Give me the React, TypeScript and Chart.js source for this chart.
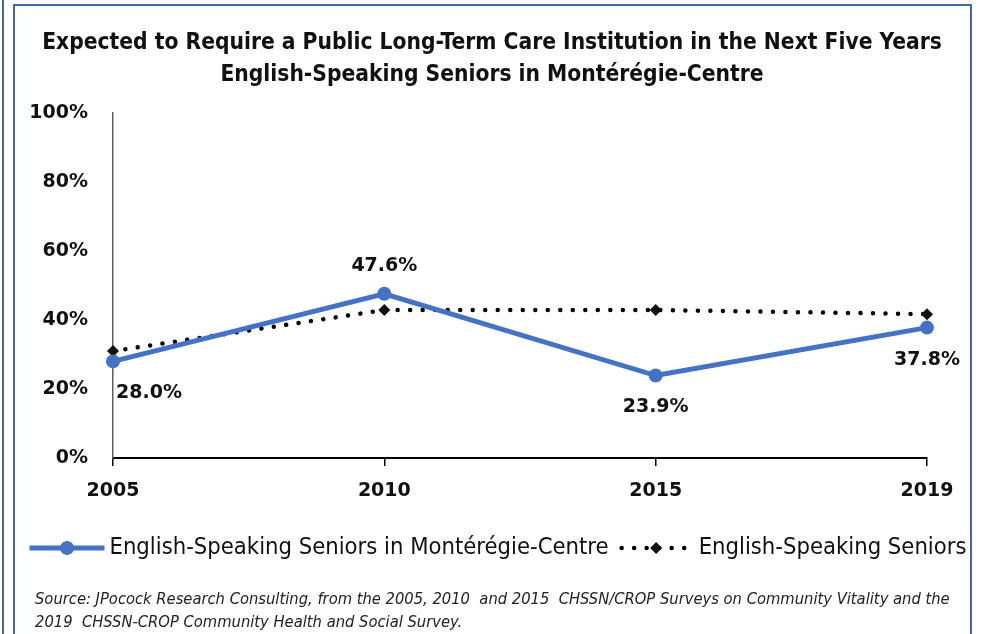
import React, { useEffect, useRef } from 'react';
import { Chart, registerables } from 'chart.js';

Chart.register(...registerables);

// ---------- data ----------
const years = ['2005', '2010', '2015', '2019'];
const monteregieCentre = [28.0, 47.6, 23.9, 37.8];
const allEnglishSeniors = [31.0, 42.9, 42.9, 41.7];
const yTickValues = [0, 20, 40, 60, 80, 100];
const seriesNames = ['English-Speaking Seniors in Montérégie-Centre', 'English-Speaking Seniors'];
const titleLines = [
  'Expected to Require a Public Long-Term Care Institution in the Next Five Years',
  'English-Speaking Seniors in Montérégie-Centre',
];
const sourceLines = [
  'Source: JPocock Research Consulting, from the 2005, 2010  and 2015  CHSSN/CROP Surveys on Community Vitality and the',
  '2019  CHSSN-CROP Community Health and Social Survey.',
];
const labelPlacement = ['below', 'above', 'below', 'below'];

// ---------- styles ----------
const BLUE = '#4472C4';
const FRAME = '#4166ae';
const NARROW = '"Liberation Sans Narrow", "DejaVu Sans Condensed", "Roboto Condensed", "Liberation Sans", sans-serif';
const WIDE = '"DejaVu Sans", "Liberation Sans", sans-serif';
const CANVAS_W = 953;
const CANVAS_H = 628;

const textPlugin = {
  id: 'textPlugin',
  afterDatasetsDraw(chart: any) {
    const ctx = chart.ctx;
    const area = chart.chartArea;
    const meta = chart.getDatasetMeta(0);
    const values = chart.data.datasets[0].data as number[];
    ctx.save();
    ctx.font = `bold 19px ${WIDE}`;
    ctx.fillStyle = '#111';
    ctx.textAlign = 'center';
    ctx.textBaseline = 'middle';
    meta.data.forEach((el: any, i: number) => {
      const txt = values[i].toFixed(1) + '%';
      const w = ctx.measureText(txt).width;
      const cx = Math.max(el.x, area.left + 3 + w / 2);
      const cy = labelPlacement[i] === 'above' ? el.y - 28 : el.y + 32;
      ctx.fillText(txt, cx, cy);
    });
    ctx.restore();
  },
  afterDraw(chart: any) {
    const ctx = chart.ctx;
    ctx.save();
    // title
    ctx.fillStyle = '#111';
    ctx.textAlign = 'center';
    ctx.textBaseline = 'middle';
    ctx.font = `bold 22.6px ${NARROW}`;
    ctx.fillText(titleLines[0], 477, 37);
    ctx.fillText(titleLines[1], 477, 69);

    // legend
    const ds = chart.data.datasets;
    ctx.font = `23.6px ${NARROW}`;
    const sample = 75;
    const gap = 5;
    const between = 10;
    const w1 = ctx.measureText(seriesNames[0]).width;
    const w2 = ctx.measureText(seriesNames[1]).width;
    const total = sample + gap + w1 + between + sample + gap + w2;
    let x = 483 - total / 2;
    const ly = 542;
    // item 1
    ctx.strokeStyle = ds[0].borderColor;
    ctx.lineWidth = ds[0].borderWidth;
    ctx.setLineDash([]);
    ctx.lineCap = 'butt';
    ctx.beginPath();
    ctx.moveTo(x, ly);
    ctx.lineTo(x + sample, ly);
    ctx.stroke();
    ctx.fillStyle = ds[0].pointBackgroundColor;
    ctx.beginPath();
    ctx.arc(x + sample / 2, ly, ds[0].pointRadius, 0, Math.PI * 2);
    ctx.fill();
    ctx.fillStyle = '#111';
    ctx.textAlign = 'left';
    ctx.fillText(seriesNames[0], x + sample + gap, ly);
    x += sample + gap + w1 + between;
    // item 2
    ctx.strokeStyle = ds[1].borderColor;
    ctx.lineWidth = ds[1].borderWidth;
    ctx.setLineDash(ds[1].borderDash);
    ctx.lineCap = 'round';
    ctx.beginPath();
    ctx.moveTo(x + 3, ly);
    ctx.lineTo(x + sample, ly);
    ctx.stroke();
    ctx.setLineDash([]);
    const r = ds[1].pointRadius;
    const cx = x + sample / 2;
    ctx.fillStyle = ds[1].pointBackgroundColor;
    ctx.beginPath();
    ctx.moveTo(cx, ly - r);
    ctx.lineTo(cx + r, ly);
    ctx.lineTo(cx, ly + r);
    ctx.lineTo(cx - r, ly);
    ctx.closePath();
    ctx.fill();
    ctx.fillStyle = '#111';
    ctx.fillText(seriesNames[1], x + sample + gap, ly);

    // source
    ctx.font = `italic 16.4px ${NARROW}`;
    ctx.fillStyle = '#222';
    ctx.textAlign = 'left';
    ctx.fillText(sourceLines[0], 20, 594);
    ctx.fillText(sourceLines[1], 20, 617);
    ctx.restore();
  },
};

function LineChart() {
  const ref = useRef<HTMLCanvasElement | null>(null);
  useEffect(() => {
    if (!ref.current) return;
    const tickFont = { family: WIDE, weight: 'bold' as const, size: 19 };
    const chart = new Chart(ref.current, {
      type: 'line',
      data: {
        labels: years,
        datasets: [
          {
            label: seriesNames[0],
            data: monteregieCentre,
            borderColor: BLUE,
            backgroundColor: BLUE,
            borderWidth: 5,
            pointRadius: 7,
            pointHoverRadius: 7,
            pointBackgroundColor: BLUE,
            pointBorderColor: BLUE,
            pointBorderWidth: 0,
            tension: 0,
            clip: false,
            order: 0,
          } as any,
          {
            label: seriesNames[1],
            data: allEnglishSeniors,
            borderColor: '#000',
            backgroundColor: '#000',
            borderWidth: 4.5,
            borderDash: [0.01, 12.5],
            borderCapStyle: 'round',
            pointStyle: 'rectRot',
            pointRadius: 6,
            pointHoverRadius: 6,
            pointBackgroundColor: '#111',
            pointBorderColor: '#111',
            pointBorderWidth: 0,
            tension: 0,
            clip: false,
            order: 1,
          } as any,
        ],
      },
      options: {
        responsive: false,
        animation: false,
        events: [],
        layout: { padding: { left: 0, right: 41, top: 107, bottom: 126 } },
        plugins: {
          legend: { display: false },
          title: { display: false },
          tooltip: { enabled: false },
        },
        scales: {
          x: {
            type: 'category',
            offset: false,
            grid: {
              display: true,
              drawOnChartArea: false,
              drawTicks: true,
              tickLength: 8,
              color: '#000',
              lineWidth: 1.5,
            },
            border: { display: true, color: '#000', width: 2 },
            ticks: { font: tickFont, color: '#111', padding: 14, maxRotation: 0, autoSkip: false },
            afterFit: (s: any) => {
              s.height = 50;
            },
          },
          y: {
            min: 0,
            max: 100,
            afterBuildTicks: (s: any) => {
              s.ticks = yTickValues.map((v) => ({ value: v }));
            },
            ticks: {
              font: tickFont,
              color: '#111',
              padding: 25,
              callback: (v: any) => v + '%',
            },
            grid: { display: false, drawTicks: false },
            border: { display: true, color: '#5f5f5f', width: 1.5 },
            afterFit: (s: any) => {
              s.width = 98;
            },
          },
        },
      },
      plugins: [textPlugin],
    });
    return () => chart.destroy();
  }, []);
  return <canvas ref={ref} width={CANVAS_W} height={CANVAS_H} style={{ display: 'block' }} />;
}

export default function App() {
  return (
    <div style={{ position: 'absolute', left: 0, top: 0, width: 984, height: 634, background: '#fff', overflow: 'hidden' }}>
      <div style={{ position: 'absolute', left: 2, top: 0, width: 2, height: 634, background: FRAME }} />
      <div
        style={{
          position: 'absolute',
          left: 13,
          top: 4,
          width: 955,
          height: 700,
          border: `2px solid ${FRAME}`,
          boxSizing: 'content-box',
        }}
      />
      <div style={{ position: 'absolute', left: 15, top: 6 }}>
        <LineChart />
      </div>
    </div>
  );
}
